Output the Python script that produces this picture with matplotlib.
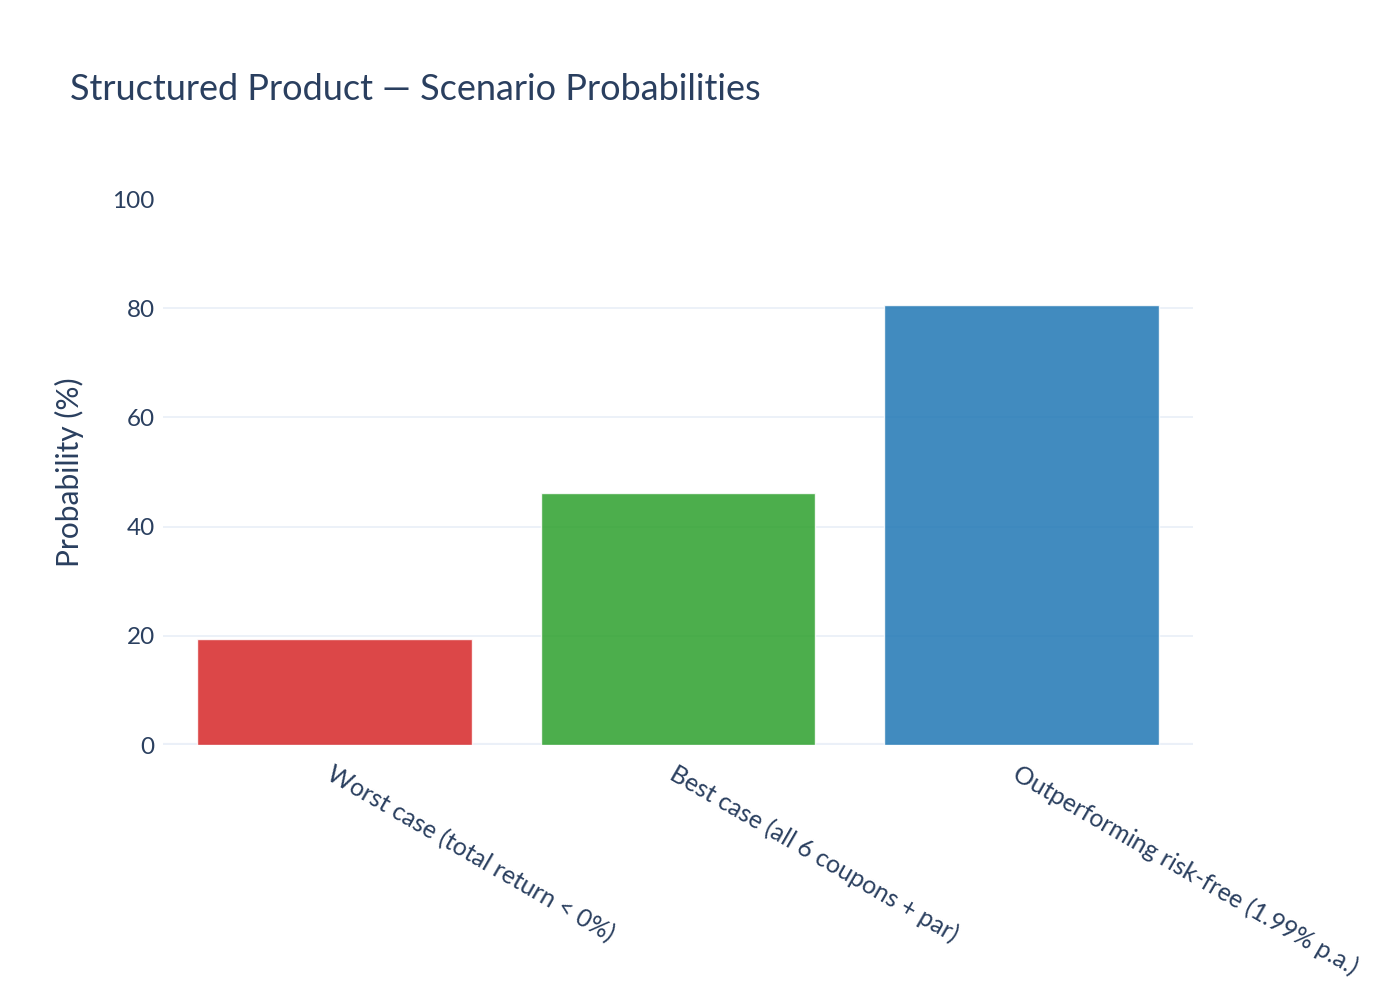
import matplotlib.pyplot as plt

plt.rcParams['font.family'] = ['Lato', 'DejaVu Sans']

scenarios = ['Worst case (total return < 0%)',
             'Best case (all 6 coupons + par)',
             'Outperforming risk-free (1.99% p.a.)']
probabilities = [19.4, 46.2, 80.5]
colors = ['#d62728', '#2ca02c', '#1f77b4']
yticks = [0, 20, 40, 60, 80, 100]

text_color = '#2a3f5f'
grid_color = '#ebf0f8'

fig = plt.figure(figsize=(14, 10), dpi=100)
ax = fig.add_axes([0.1164, 0.255, 0.7357, 0.546])

x = list(range(len(scenarios)))
ax.bar(x, probabilities, width=0.8, color=colors, alpha=0.85,
       edgecolor='white', linewidth=1, zorder=3)

ax.set_xlim(-0.5, len(scenarios) - 0.5)
ax.set_ylim(0, 100)
ax.set_yticks(yticks)
ax.set_yticklabels([str(t) for t in yticks], fontsize=17.5, color=text_color)
ax.set_xticks(x)
ax.set_xticklabels(scenarios, rotation=-30, ha='left', va='top',
                   rotation_mode='anchor', fontsize=17.8, color=text_color)
ax.tick_params(axis='both', length=0)
ax.tick_params(axis='y', pad=6)
ax.tick_params(axis='x', pad=12)

for t in yticks[1:-1]:
    ax.axhline(t, color=grid_color, linewidth=1.3, zorder=1)
ax.axhline(0, color=grid_color, linewidth=3, zorder=2)

for s in ax.spines.values():
    s.set_visible(False)

ax.set_ylabel('Probability (%)', fontsize=21.5, color=text_color, labelpad=20)

fig.text(0.05, 0.91, 'Structured Product \u2014 Scenario Probabilities',
         fontsize=26, color=text_color, ha='left', va='center')

fig.savefig('out.png', dpi=100, facecolor='white')
